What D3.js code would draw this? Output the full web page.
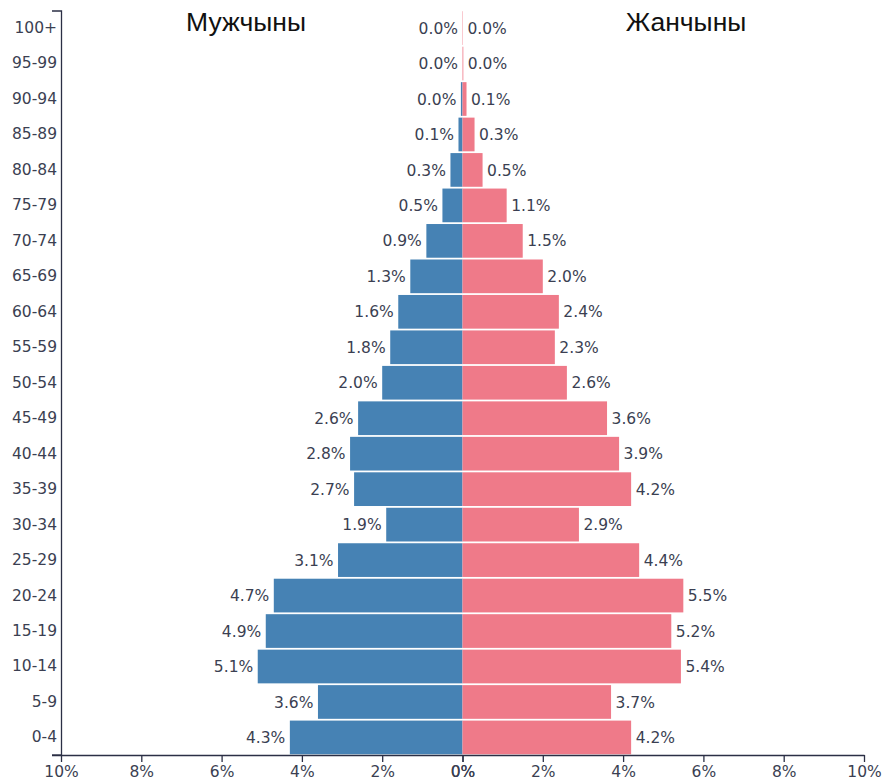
<!DOCTYPE html>
<html>
<head>
<meta charset="utf-8">
<script src="https://cdn.jsdelivr.net/npm/d3@7"></script>
<style>
  body { margin: 0; background: #fff; }
  svg { display: block; }
</style>
</head>
<body>
<svg id="chart" width="886" height="784"></svg>
<script>
const ageGroups = ["100+","95-99","90-94","85-89","80-84","75-79","70-74","65-69","60-64","55-59","50-54","45-49","40-44","35-39","30-34","25-29","20-24","15-19","10-14","5-9","0-4"];
const maleValues = [0.0,0.0,0.04,0.1,0.3,0.5,0.9,1.3,1.6,1.8,2.0,2.6,2.8,2.7,1.9,3.1,4.7,4.9,5.1,3.6,4.3];
const femaleValues = [0.01,0.02,0.1,0.3,0.5,1.1,1.5,2.0,2.4,2.3,2.6,3.6,3.9,4.2,2.9,4.4,5.5,5.2,5.44,3.7,4.2];
const xTicks = [0,2,4,6,8,10];
const maleTitle = "Мужчыны";
const femaleTitle = "Жанчыны";

const svg = d3.select("#chart");
const mLeft = 61, mRight = 864, mTop = 10.5, mBottom = 755;
const mid = (mLeft + mRight) / 2;

const xMale = d3.scaleLinear().domain([10, 0]).range([mLeft, mid]);
const xFemale = d3.scaleLinear().domain([0, 10]).range([mid, mRight]);
const y = d3.scaleBand().domain(ageGroups).range([mTop, mBottom]).paddingInner(0.05).paddingOuter(0.02);

const maleColor = "#4682b4", femaleColor = "#ef7a89";
const textColor = "#3b3f52";
const fs = 15.5;

const rows = ageGroups.map((g, i) => ({g, m: maleValues[i], f: femaleValues[i]}));

svg.append("g").selectAll("rect").data(rows).join("rect")
  .attr("x", d => xMale(d.m)).attr("y", d => y(d.g))
  .attr("width", d => mid - xMale(d.m)).attr("height", y.bandwidth())
  .attr("fill", maleColor);

svg.append("g").selectAll("rect").data(rows).join("rect")
  .attr("x", mid).attr("y", d => y(d.g))
  .attr("width", d => xFemale(d.f) - mid).attr("height", y.bandwidth())
  .attr("fill", femaleColor);

const fmt = v => v.toFixed(1) + "%";
svg.append("g").selectAll("text").data(rows).join("text")
  .attr("x", d => xMale(d.m) - 4.5).attr("y", d => y(d.g) + y.bandwidth() / 2)
  .attr("dy", "0.36em").attr("text-anchor", "end")
  .attr("font-family", "DejaVu Sans").attr("font-size", fs).attr("fill", textColor)
  .text(d => fmt(d.m));

svg.append("g").selectAll("text").data(rows).join("text")
  .attr("x", d => xFemale(d.f) + 4.5).attr("y", d => y(d.g) + y.bandwidth() / 2)
  .attr("dy", "0.36em").attr("text-anchor", "start")
  .attr("font-family", "DejaVu Sans").attr("font-size", fs).attr("fill", textColor)
  .text(d => fmt(d.f));

// Axes
const axisY = svg.append("g").attr("transform", `translate(${mLeft},0)`)
  .call(d3.axisLeft(y).tickSizeInner(0).tickSizeOuter(9).tickPadding(4));
const axisM = svg.append("g").attr("transform", `translate(0,${mBottom})`)
  .call(d3.axisBottom(xMale).tickValues(xTicks).tickFormat(d => d + "%").tickSizeInner(7).tickSizeOuter(0).tickPadding(4));
const axisF = svg.append("g").attr("transform", `translate(0,${mBottom})`)
  .call(d3.axisBottom(xFemale).tickValues(xTicks).tickFormat(d => d + "%").tickSizeInner(7).tickSizeOuter(0).tickPadding(4));

[axisY, axisM, axisF].forEach(a => {
  a.selectAll("path, line").attr("stroke", "#2b2f45").attr("stroke-width", 1.3);
  a.selectAll("text").attr("font-family", "DejaVu Sans").attr("font-size", fs).attr("fill", textColor);
});
svg.append("line").attr("x1", mLeft - 9).attr("x2", mLeft).attr("y1", mBottom).attr("y2", mBottom)
  .attr("stroke", "#2b2f45").attr("stroke-width", 1.3);

svg.append("text").attr("x", 246).attr("y", 31).attr("text-anchor", "middle")
  .attr("font-family", "Liberation Sans, Arial").attr("font-size", 26.5).attr("fill", "#111")
  .text(maleTitle);
svg.append("text").attr("x", 686).attr("y", 31).attr("text-anchor", "middle")
  .attr("font-family", "Liberation Sans, Arial").attr("font-size", 26.5).attr("fill", "#111")
  .text(femaleTitle);
</script>
</body>
</html>
